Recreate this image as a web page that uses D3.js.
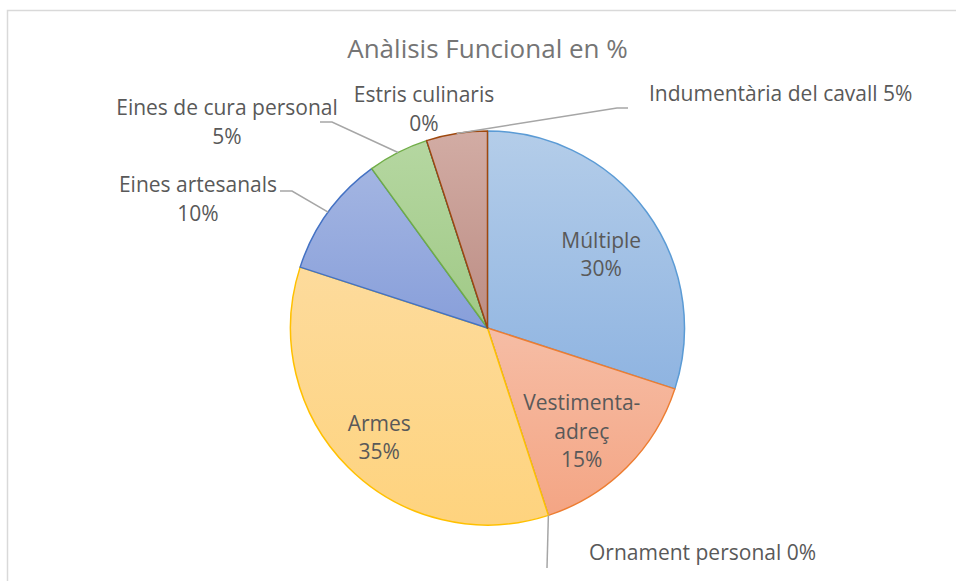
<!DOCTYPE html>
<html>
<head>
<meta charset="utf-8">
<script src="https://cdn.jsdelivr.net/npm/d3@7"></script>
<style>
  html, body { margin: 0; padding: 0; background: #fff; }
  svg { display: block; font-family: 'Open Sans', sans-serif; }
</style>
</head>
<body>
<div id="chart"></div>
<script>
// --- Data ---
const title = 'Anàlisis Funcional en %';
const categories = ['Múltiple', 'Vestimenta-adreç', 'Ornament personal', 'Armes',
  'Eines artesanals', 'Eines de cura personal', 'Estris culinaris', 'Indumentària del cavall'];
const values = [30, 15, 0, 35, 10, 5, 0, 5];

// --- Styles (Office palette, light gradient fills) ---
const strokeColors = ['#5b9bd5', '#ed7d31', '#a5a5a5', '#ffc000', '#4472c4', '#70ad47', '#255e91', '#9e480e'];
const fillTop = ['#b4cde9', '#f6bda5', '#cfcfcf', '#fddb9c', '#a3b5e2', '#b5d7a1', '#8aa6c4', '#d2aca4'];
const fillBottom = ['#8fb4e1', '#f4a584', '#b9b9b9', '#fed37e', '#889fda', '#a0c986', '#7191b3', '#bc8d84'];

// --- Layout ---
const width = 956;
const height = 581;
const cx = 487.5, cy = 328;
const radius = 197;
const lineGap = 28.5;
const fontSize = 21;

// label placement: inside labels are nudged from the arc centroid,
// outside labels sit at a fixed spot with a leader line
const labelLayout = {
  'Múltiple': { inside: true, dx: -1, dy: 10 },
  'Vestimenta-adreç': { inside: true, dx: -6, dy: 3, lines: ['Vestimenta-', 'adreç'] },
  'Armes': { inside: true, dx: -8, dy: 9 },
  'Ornament personal': { x: 589, y: 560, anchor: 'start', oneLine: true, leader: [[547, 568]] },
  'Eines artesanals': { x: 198, y: 192, leader: [[292, 191], [280, 191]] },
  'Eines de cura personal': { x: 227, y: 115, leader: [[332, 122], [320, 122]] },
  'Estris culinaris': { x: 424, y: 102 },
  'Indumentària del cavall': { x: 649, y: 101, anchor: 'start', oneLine: true, leader: [[617, 108], [628, 108]] }
};

const total = d3.sum(values);
const pct = d3.format('.0%');

const svg = d3.create('svg')
    .attr('width', width)
    .attr('height', height);

svg.append('rect')
    .attr('width', width).attr('height', height)
    .attr('fill', '#fff');

// chart frame (runs off the bottom/right of the window)
svg.append('rect')
    .attr('x', 7.5).attr('y', 10.5)
    .attr('width', 1200).attr('height', 1000)
    .attr('fill', 'none')
    .attr('stroke', '#d9d9d9')
    .attr('stroke-width', 1.5);

svg.append('text')
    .attr('x', cx)
    .attr('y', 58)
    .attr('text-anchor', 'middle')
    .attr('font-size', 26)
    .attr('fill', '#757575')
    .text(title);

// --- Gradients ---
const defs = svg.append('defs');
categories.forEach((c, i) => {
  const grad = defs.append('linearGradient')
      .attr('id', 'grad' + i)
      .attr('x1', 0).attr('y1', 0).attr('x2', 0).attr('y2', 1);
  grad.append('stop').attr('offset', '0%').attr('stop-color', fillTop[i]);
  grad.append('stop').attr('offset', '100%').attr('stop-color', fillBottom[i]);
});

// --- Pie ---
const pie = d3.pie().sort(null).value(d => d.value);
const arcs = pie(categories.map((c, i) => ({ name: c, value: values[i], i })));

const arc = d3.arc().innerRadius(0).outerRadius(radius);
const labelArc = d3.arc().innerRadius(radius * 0.72).outerRadius(radius * 0.72);
const edgeArc = d3.arc().innerRadius(radius).outerRadius(radius);

const g = svg.append('g').attr('transform', `translate(${cx},${cy})`);

g.selectAll('path.slice')
  .data(arcs)
  .join('path')
    .attr('class', 'slice')
    .attr('d', arc)
    .attr('fill', d => `url(#grad${d.data.i})`)
    .attr('stroke', d => strokeColors[d.data.i])
    .attr('stroke-width', 1.5)
    .attr('stroke-linejoin', 'round');

// --- Leader lines ---
const leaderData = arcs.filter(d => labelLayout[d.data.name].leader);
svg.append('g').selectAll('path')
  .data(leaderData)
  .join('path')
    .attr('fill', 'none')
    .attr('stroke', '#a6a6a6')
    .attr('stroke-width', 1.5)
    .attr('d', d => {
      const [sx, sy] = edgeArc.centroid(d);
      const pts = [[cx + sx, cy + sy], ...labelLayout[d.data.name].leader];
      return d3.line()(pts);
    });

// --- Data labels ---
const labels = svg.append('g')
    .attr('font-size', fontSize)
    .attr('fill', '#595959');

arcs.forEach(d => {
  const lay = labelLayout[d.data.name];
  const p = pct(d.data.value / total);
  let lines;
  if (lay.oneLine) lines = [d.data.name + ' ' + p];
  else lines = (lay.lines || [d.data.name]).concat([p]);

  let x, y;
  if (lay.inside) {
    const [lx, ly] = labelArc.centroid(d);
    x = cx + lx + lay.dx;
    y = cy + ly - (lines.length - 1) * lineGap / 2 + 7.5 + lay.dy;
  } else {
    x = lay.x;
    y = lay.y;
  }

  const t = labels.append('text')
      .attr('text-anchor', lay.anchor || 'middle');
  lines.forEach((s, k) => {
    t.append('tspan')
      .attr('x', x)
      .attr('y', y + k * lineGap)
      .text(s);
  });
});

document.querySelector('#chart').append(svg.node());
</script>
</body>
</html>
